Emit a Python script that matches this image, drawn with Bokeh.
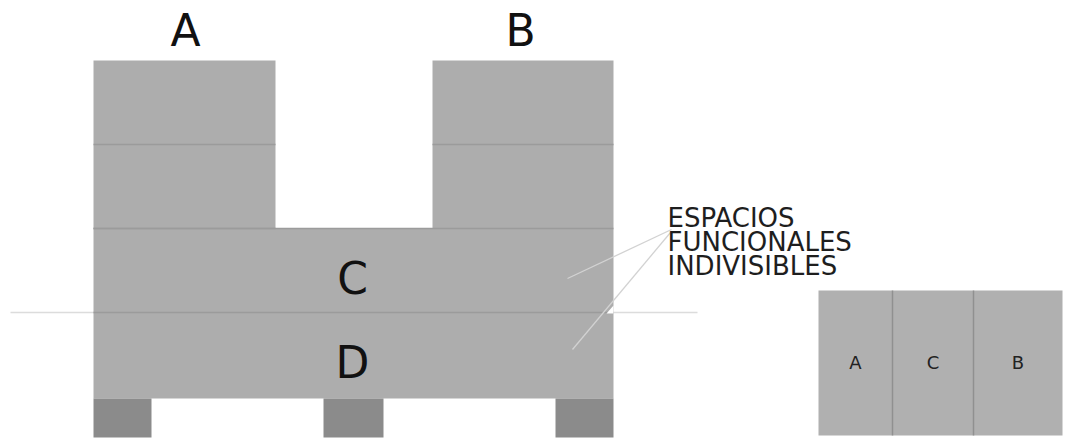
from bokeh.plotting import figure
from bokeh.models import Range1d
from bokeh.core.properties import value
from bokeh.embed import file_html
from bokeh.resources import INLINE

# Building blocks (diagram units = reference pixels)
block_names = ["A", "B", "C", "D"]
block_left = [93, 432, 93, 93]
block_right = [275, 613, 613, 613]
block_top = [60, 60, 228, 312]
block_bottom = [228, 228, 312, 398]
label_x = [185, 520, 352, 352]
label_y = [30, 30, 278, 362]

# Floor division lines inside towers
floor_x0 = [93, 432, 93, 93]
floor_x1 = [275, 613, 275, 613]
floor_y = [144, 144, 228, 228]

# Pillars
pillar_left = [93, 323, 555]
pillar_right = [151, 383, 613]
pillar_top = [398, 398, 398]
pillar_bottom = [437, 437, 437]

# Section line
section_x = [10, 697]
section_y = 312

# Annotation
note_lines = ["ESPACIOS", "FUNCIONALES", "INDIVISIBLES"]
note_y = [217, 241, 265]
note_x = 667
leader_x0 = [671, 670]
leader_y0 = [229, 232]
leader_x1 = [567, 572]
leader_y1 = [278, 349]

# Small scheme box
box_names = ["A", "C", "B"]
box_left = [818, 892, 973]
box_right = [892, 973, 1062]
box_top = 290
box_bottom = 435
box_label_y = 362

W, H = 1067, 441
p = figure(width=W, height=H, x_range=Range1d(0, W), y_range=Range1d(H, 0),
           output_backend="svg", toolbar_location=None, min_border=0)
p.axis.visible = False
p.grid.visible = False
p.outline_line_color = None
p.background_fill_color = "white"
p.border_fill_color = "white"

p.line(section_x, [section_y, section_y], line_color="#dcdcdc", line_width=1.5)

p.quad(left=block_left, right=block_right, top=block_top, bottom=block_bottom,
       fill_color="#adadad", line_color=None)
p.quad(left=pillar_left, right=pillar_right, top=pillar_top, bottom=pillar_bottom,
       fill_color="#8b8b8b", line_color=None)

p.segment(x0=floor_x0, y0=floor_y, x1=floor_x1, y1=floor_y, line_color="#9b9b9b", line_width=1.5)
p.segment(x0=[93], y0=[section_y], x1=[613], y1=[section_y], line_color="#9b9b9b", line_width=1.5)

p.segment(x0=leader_x0, y0=leader_y0, x1=leader_x1, y1=leader_y1, line_color="#d2d2d2", line_width=1.3)
p.patch([606, 613, 613], [313, 313, 305], fill_color="white", line_color=None)

p.text(x=label_x, y=label_y, text=block_names, text_align="center", text_baseline="middle",
       text_font=value("DejaVu Sans"), text_font_size="44px", text_color="#111111")

p.text(x=[note_x] * 3, y=note_y, text=note_lines, text_align="left", text_baseline="middle",
       text_font=value("DejaVu Sans"), text_font_size="26px",
       text_color="#1e1e1e")

p.quad(left=box_left, right=box_right, top=[box_top] * 3, bottom=[box_bottom] * 3,
       fill_color="#b0b0b0", line_color=None)
p.segment(x0=box_left[1:], y0=[box_top] * 2, x1=box_left[1:], y1=[box_bottom] * 2,
          line_color="#909090", line_width=1.5)
p.text(x=[(l + r) / 2 for l, r in zip(box_left, box_right)], y=[box_label_y] * 3, text=box_names,
       text_align="center", text_baseline="middle",
       text_font=value("DejaVu Sans"), text_font_size="18px", text_color="#222222")

open("out.html", "w").write(file_html(p, INLINE))
